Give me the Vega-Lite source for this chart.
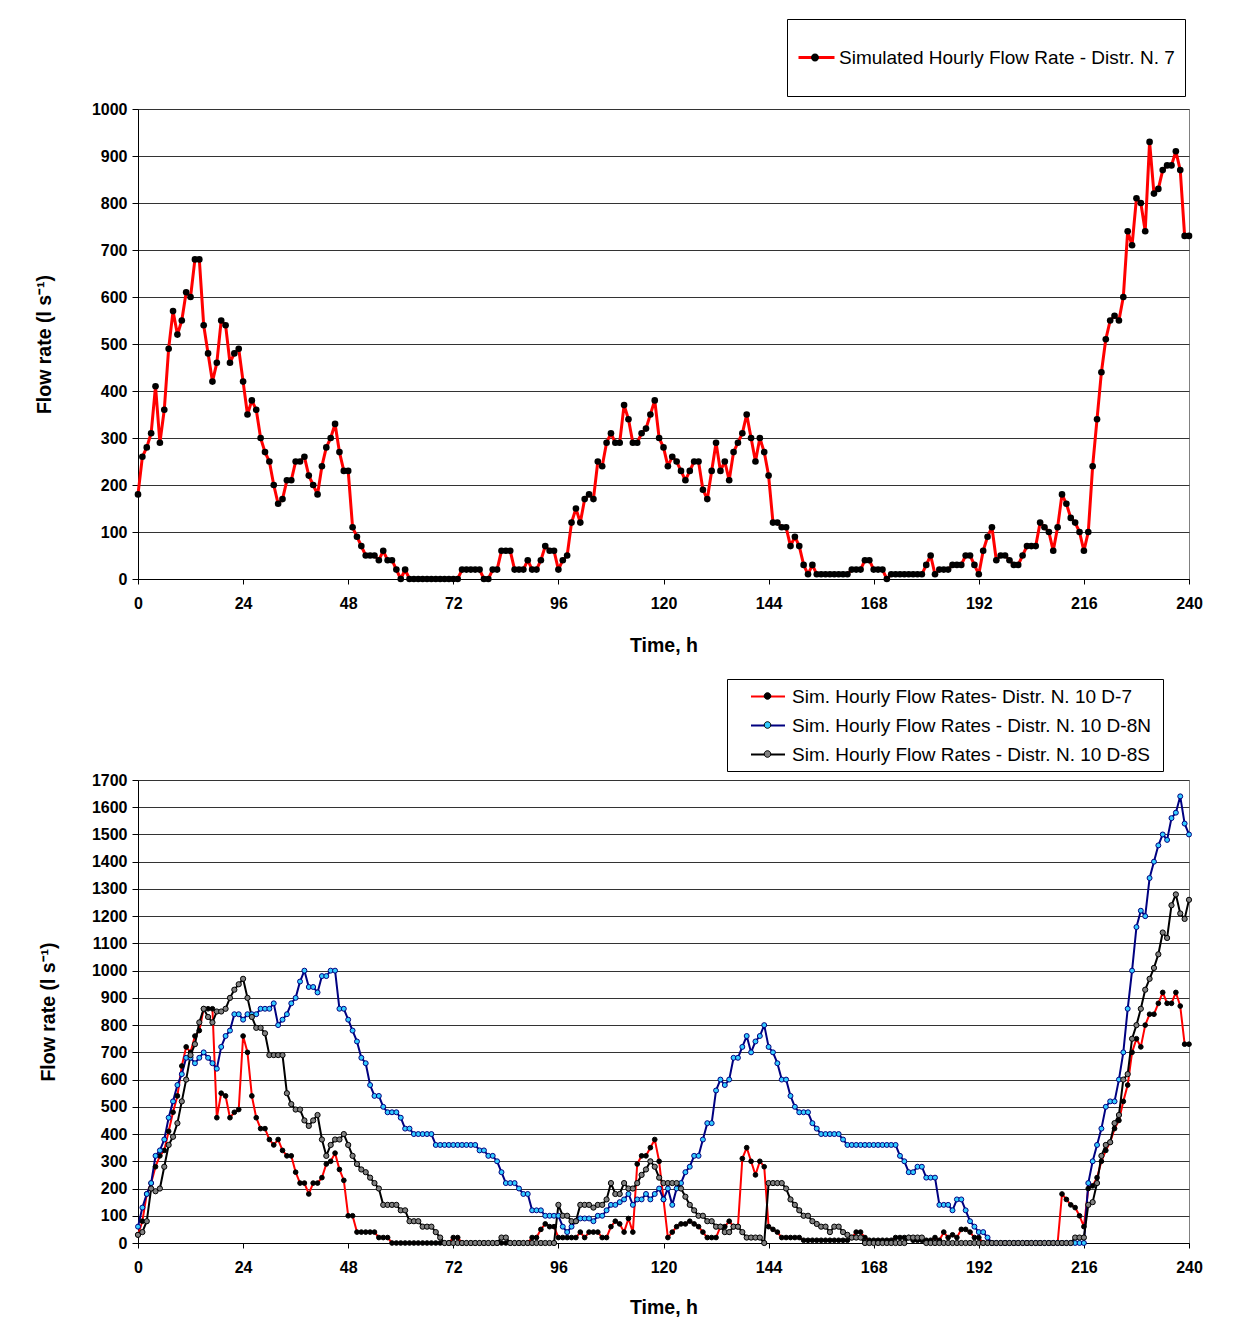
{
"$schema":"https://vega.github.io/schema/vega-lite/v6.json",
"padding":{"left":33,"top":18,"right":4,"bottom":2},
"background":"white",
"spacing":201,
"bounds":"flush",
"resolve":{"scale":{"color":"independent","fill":"independent","size":"independent","stroke":"independent","x":"independent","y":"independent"},"legend":{"color":"independent","fill":"independent"}},
"config":{
 "font":"Liberation Sans",
 "view":{"stroke":"#808080","strokeWidth":1},
 "axis":{"labelFont":"Liberation Sans","labelFontWeight":"bold","labelFontSize":16,"labelColor":"#000","titleFont":"Liberation Sans","titleFontWeight":"bold","titleFontSize":19.5,"titleColor":"#000","domainColor":"#000","domainWidth":1,"tickColor":"#000","gridColor":"#333333","gridWidth":1},
 "legend":{"labelFont":"Liberation Sans","labelFontSize":19,"labelColor":"#000"}
},
"datasets":{
"top":[
{"h":0,"v":180},{"h":1,"v":260},{"h":2,"v":280},{"h":3,"v":310},{"h":4,"v":410},{"h":5,"v":290},{"h":6,"v":360},{"h":7,"v":490},{"h":8,"v":570},{"h":9,"v":520},
{"h":10,"v":550},{"h":11,"v":610},{"h":12,"v":600},{"h":13,"v":680},{"h":14,"v":680},{"h":15,"v":540},{"h":16,"v":480},{"h":17,"v":420},{"h":18,"v":460},{"h":19,"v":550},
{"h":20,"v":540},{"h":21,"v":460},{"h":22,"v":480},{"h":23,"v":490},{"h":24,"v":420},{"h":25,"v":350},{"h":26,"v":380},{"h":27,"v":360},{"h":28,"v":300},{"h":29,"v":270},
{"h":30,"v":250},{"h":31,"v":200},{"h":32,"v":160},{"h":33,"v":170},{"h":34,"v":210},{"h":35,"v":210},{"h":36,"v":250},{"h":37,"v":250},{"h":38,"v":260},{"h":39,"v":220},
{"h":40,"v":200},{"h":41,"v":180},{"h":42,"v":240},{"h":43,"v":280},{"h":44,"v":300},{"h":45,"v":330},{"h":46,"v":270},{"h":47,"v":230},{"h":48,"v":230},{"h":49,"v":110},
{"h":50,"v":90},{"h":51,"v":70},{"h":52,"v":50},{"h":53,"v":50},{"h":54,"v":50},{"h":55,"v":40},{"h":56,"v":60},{"h":57,"v":40},{"h":58,"v":40},{"h":59,"v":20},
{"h":60,"v":0},{"h":61,"v":20},{"h":62,"v":0},{"h":63,"v":0},{"h":64,"v":0},{"h":65,"v":0},{"h":66,"v":0},{"h":67,"v":0},{"h":68,"v":0},{"h":69,"v":0},
{"h":70,"v":0},{"h":71,"v":0},{"h":72,"v":0},{"h":73,"v":0},{"h":74,"v":20},{"h":75,"v":20},{"h":76,"v":20},{"h":77,"v":20},{"h":78,"v":20},{"h":79,"v":0},
{"h":80,"v":0},{"h":81,"v":20},{"h":82,"v":20},{"h":83,"v":60},{"h":84,"v":60},{"h":85,"v":60},{"h":86,"v":20},{"h":87,"v":20},{"h":88,"v":20},{"h":89,"v":40},
{"h":90,"v":20},{"h":91,"v":20},{"h":92,"v":40},{"h":93,"v":70},{"h":94,"v":60},{"h":95,"v":60},{"h":96,"v":20},{"h":97,"v":40},{"h":98,"v":50},{"h":99,"v":120},
{"h":100,"v":150},{"h":101,"v":120},{"h":102,"v":170},{"h":103,"v":180},{"h":104,"v":170},{"h":105,"v":250},{"h":106,"v":240},{"h":107,"v":290},{"h":108,"v":310},{"h":109,"v":290},
{"h":110,"v":290},{"h":111,"v":370},{"h":112,"v":340},{"h":113,"v":290},{"h":114,"v":290},{"h":115,"v":310},{"h":116,"v":320},{"h":117,"v":350},{"h":118,"v":380},{"h":119,"v":300},
{"h":120,"v":280},{"h":121,"v":240},{"h":122,"v":260},{"h":123,"v":250},{"h":124,"v":230},{"h":125,"v":210},{"h":126,"v":230},{"h":127,"v":250},{"h":128,"v":250},{"h":129,"v":190},
{"h":130,"v":170},{"h":131,"v":230},{"h":132,"v":290},{"h":133,"v":230},{"h":134,"v":250},{"h":135,"v":210},{"h":136,"v":270},{"h":137,"v":290},{"h":138,"v":310},{"h":139,"v":350},
{"h":140,"v":300},{"h":141,"v":250},{"h":142,"v":300},{"h":143,"v":270},{"h":144,"v":220},{"h":145,"v":120},{"h":146,"v":120},{"h":147,"v":110},{"h":148,"v":110},{"h":149,"v":70},
{"h":150,"v":90},{"h":151,"v":70},{"h":152,"v":30},{"h":153,"v":10},{"h":154,"v":30},{"h":155,"v":10},{"h":156,"v":10},{"h":157,"v":10},{"h":158,"v":10},{"h":159,"v":10},
{"h":160,"v":10},{"h":161,"v":10},{"h":162,"v":10},{"h":163,"v":20},{"h":164,"v":20},{"h":165,"v":20},{"h":166,"v":40},{"h":167,"v":40},{"h":168,"v":20},{"h":169,"v":20},
{"h":170,"v":20},{"h":171,"v":0},{"h":172,"v":10},{"h":173,"v":10},{"h":174,"v":10},{"h":175,"v":10},{"h":176,"v":10},{"h":177,"v":10},{"h":178,"v":10},{"h":179,"v":10},
{"h":180,"v":30},{"h":181,"v":50},{"h":182,"v":10},{"h":183,"v":20},{"h":184,"v":20},{"h":185,"v":20},{"h":186,"v":30},{"h":187,"v":30},{"h":188,"v":30},{"h":189,"v":50},
{"h":190,"v":50},{"h":191,"v":30},{"h":192,"v":10},{"h":193,"v":60},{"h":194,"v":90},{"h":195,"v":110},{"h":196,"v":40},{"h":197,"v":50},{"h":198,"v":50},{"h":199,"v":40},
{"h":200,"v":30},{"h":201,"v":30},{"h":202,"v":50},{"h":203,"v":70},{"h":204,"v":70},{"h":205,"v":70},{"h":206,"v":120},{"h":207,"v":110},{"h":208,"v":100},{"h":209,"v":60},
{"h":210,"v":110},{"h":211,"v":180},{"h":212,"v":160},{"h":213,"v":130},{"h":214,"v":120},{"h":215,"v":100},{"h":216,"v":60},{"h":217,"v":100},{"h":218,"v":240},{"h":219,"v":340},
{"h":220,"v":440},{"h":221,"v":510},{"h":222,"v":550},{"h":223,"v":560},{"h":224,"v":550},{"h":225,"v":600},{"h":226,"v":740},{"h":227,"v":710},{"h":228,"v":810},{"h":229,"v":800},
{"h":230,"v":740},{"h":231,"v":930},{"h":232,"v":820},{"h":233,"v":830},{"h":234,"v":870},{"h":235,"v":880},{"h":236,"v":880},{"h":237,"v":910},{"h":238,"v":870},{"h":239,"v":730},
{"h":240,"v":730}
],
"bot":[
{"s":"D-7","h":0,"v":30},{"s":"D-7","h":1,"v":80},{"s":"D-7","h":2,"v":180},{"s":"D-7","h":3,"v":220},{"s":"D-7","h":4,"v":280},{"s":"D-7","h":5,"v":320},{"s":"D-7","h":6,"v":340},{"s":"D-7","h":7,"v":410},{"s":"D-7","h":8,"v":480},{"s":"D-7","h":9,"v":540},
{"s":"D-7","h":10,"v":650},{"s":"D-7","h":11,"v":720},{"s":"D-7","h":12,"v":700},{"s":"D-7","h":13,"v":760},{"s":"D-7","h":14,"v":780},{"s":"D-7","h":15,"v":860},{"s":"D-7","h":16,"v":860},{"s":"D-7","h":17,"v":860},{"s":"D-7","h":18,"v":460},{"s":"D-7","h":19,"v":550},
{"s":"D-7","h":20,"v":540},{"s":"D-7","h":21,"v":460},{"s":"D-7","h":22,"v":480},{"s":"D-7","h":23,"v":490},{"s":"D-7","h":24,"v":760},{"s":"D-7","h":25,"v":700},{"s":"D-7","h":26,"v":540},{"s":"D-7","h":27,"v":460},{"s":"D-7","h":28,"v":420},{"s":"D-7","h":29,"v":420},
{"s":"D-7","h":30,"v":380},{"s":"D-7","h":31,"v":360},{"s":"D-7","h":32,"v":380},{"s":"D-7","h":33,"v":340},{"s":"D-7","h":34,"v":320},{"s":"D-7","h":35,"v":320},{"s":"D-7","h":36,"v":260},{"s":"D-7","h":37,"v":220},{"s":"D-7","h":38,"v":220},{"s":"D-7","h":39,"v":180},
{"s":"D-7","h":40,"v":220},{"s":"D-7","h":41,"v":220},{"s":"D-7","h":42,"v":240},{"s":"D-7","h":43,"v":290},{"s":"D-7","h":44,"v":300},{"s":"D-7","h":45,"v":330},{"s":"D-7","h":46,"v":270},{"s":"D-7","h":47,"v":230},{"s":"D-7","h":48,"v":100},{"s":"D-7","h":49,"v":100},
{"s":"D-7","h":50,"v":40},{"s":"D-7","h":51,"v":40},{"s":"D-7","h":52,"v":40},{"s":"D-7","h":53,"v":40},{"s":"D-7","h":54,"v":40},{"s":"D-7","h":55,"v":20},{"s":"D-7","h":56,"v":20},{"s":"D-7","h":57,"v":20},{"s":"D-7","h":58,"v":0},{"s":"D-7","h":59,"v":0},
{"s":"D-7","h":60,"v":0},{"s":"D-7","h":61,"v":0},{"s":"D-7","h":62,"v":0},{"s":"D-7","h":63,"v":0},{"s":"D-7","h":64,"v":0},{"s":"D-7","h":65,"v":0},{"s":"D-7","h":66,"v":0},{"s":"D-7","h":67,"v":0},{"s":"D-7","h":68,"v":0},{"s":"D-7","h":69,"v":0},
{"s":"D-7","h":70,"v":0},{"s":"D-7","h":71,"v":0},{"s":"D-7","h":72,"v":20},{"s":"D-7","h":73,"v":20},{"s":"D-7","h":74,"v":0},{"s":"D-7","h":75,"v":0},{"s":"D-7","h":76,"v":0},{"s":"D-7","h":77,"v":0},{"s":"D-7","h":78,"v":0},{"s":"D-7","h":79,"v":0},
{"s":"D-7","h":80,"v":0},{"s":"D-7","h":81,"v":0},{"s":"D-7","h":82,"v":0},{"s":"D-7","h":83,"v":0},{"s":"D-7","h":84,"v":0},{"s":"D-7","h":85,"v":0},{"s":"D-7","h":86,"v":0},{"s":"D-7","h":87,"v":0},{"s":"D-7","h":88,"v":0},{"s":"D-7","h":89,"v":0},
{"s":"D-7","h":90,"v":20},{"s":"D-7","h":91,"v":20},{"s":"D-7","h":92,"v":50},{"s":"D-7","h":93,"v":70},{"s":"D-7","h":94,"v":60},{"s":"D-7","h":95,"v":60},{"s":"D-7","h":96,"v":20},{"s":"D-7","h":97,"v":20},{"s":"D-7","h":98,"v":20},{"s":"D-7","h":99,"v":20},
{"s":"D-7","h":100,"v":20},{"s":"D-7","h":101,"v":40},{"s":"D-7","h":102,"v":20},{"s":"D-7","h":103,"v":40},{"s":"D-7","h":104,"v":40},{"s":"D-7","h":105,"v":40},{"s":"D-7","h":106,"v":20},{"s":"D-7","h":107,"v":20},{"s":"D-7","h":108,"v":60},{"s":"D-7","h":109,"v":80},
{"s":"D-7","h":110,"v":70},{"s":"D-7","h":111,"v":40},{"s":"D-7","h":112,"v":90},{"s":"D-7","h":113,"v":40},{"s":"D-7","h":114,"v":290},{"s":"D-7","h":115,"v":320},{"s":"D-7","h":116,"v":320},{"s":"D-7","h":117,"v":350},{"s":"D-7","h":118,"v":380},{"s":"D-7","h":119,"v":300},
{"s":"D-7","h":120,"v":160},{"s":"D-7","h":121,"v":20},{"s":"D-7","h":122,"v":40},{"s":"D-7","h":123,"v":60},{"s":"D-7","h":124,"v":70},{"s":"D-7","h":125,"v":70},{"s":"D-7","h":126,"v":80},{"s":"D-7","h":127,"v":70},{"s":"D-7","h":128,"v":60},{"s":"D-7","h":129,"v":40},
{"s":"D-7","h":130,"v":20},{"s":"D-7","h":131,"v":20},{"s":"D-7","h":132,"v":20},{"s":"D-7","h":133,"v":60},{"s":"D-7","h":134,"v":60},{"s":"D-7","h":135,"v":80},{"s":"D-7","h":136,"v":60},{"s":"D-7","h":137,"v":60},{"s":"D-7","h":138,"v":310},{"s":"D-7","h":139,"v":350},
{"s":"D-7","h":140,"v":300},{"s":"D-7","h":141,"v":250},{"s":"D-7","h":142,"v":300},{"s":"D-7","h":143,"v":280},{"s":"D-7","h":144,"v":60},{"s":"D-7","h":145,"v":50},{"s":"D-7","h":146,"v":40},{"s":"D-7","h":147,"v":20},{"s":"D-7","h":148,"v":20},{"s":"D-7","h":149,"v":20},
{"s":"D-7","h":150,"v":20},{"s":"D-7","h":151,"v":20},{"s":"D-7","h":152,"v":10},{"s":"D-7","h":153,"v":10},{"s":"D-7","h":154,"v":10},{"s":"D-7","h":155,"v":10},{"s":"D-7","h":156,"v":10},{"s":"D-7","h":157,"v":10},{"s":"D-7","h":158,"v":10},{"s":"D-7","h":159,"v":10},
{"s":"D-7","h":160,"v":10},{"s":"D-7","h":161,"v":10},{"s":"D-7","h":162,"v":10},{"s":"D-7","h":163,"v":20},{"s":"D-7","h":164,"v":40},{"s":"D-7","h":165,"v":40},{"s":"D-7","h":166,"v":20},{"s":"D-7","h":167,"v":10},{"s":"D-7","h":168,"v":10},{"s":"D-7","h":169,"v":10},
{"s":"D-7","h":170,"v":10},{"s":"D-7","h":171,"v":10},{"s":"D-7","h":172,"v":10},{"s":"D-7","h":173,"v":20},{"s":"D-7","h":174,"v":20},{"s":"D-7","h":175,"v":20},{"s":"D-7","h":176,"v":20},{"s":"D-7","h":177,"v":10},{"s":"D-7","h":178,"v":10},{"s":"D-7","h":179,"v":10},
{"s":"D-7","h":180,"v":10},{"s":"D-7","h":181,"v":10},{"s":"D-7","h":182,"v":20},{"s":"D-7","h":183,"v":10},{"s":"D-7","h":184,"v":40},{"s":"D-7","h":185,"v":20},{"s":"D-7","h":186,"v":30},{"s":"D-7","h":187,"v":20},{"s":"D-7","h":188,"v":50},{"s":"D-7","h":189,"v":50},
{"s":"D-7","h":190,"v":40},{"s":"D-7","h":191,"v":20},{"s":"D-7","h":192,"v":20},{"s":"D-7","h":193,"v":0},{"s":"D-7","h":194,"v":0},{"s":"D-7","h":195,"v":0},{"s":"D-7","h":196,"v":0},{"s":"D-7","h":197,"v":0},{"s":"D-7","h":198,"v":0},{"s":"D-7","h":199,"v":0},
{"s":"D-7","h":200,"v":0},{"s":"D-7","h":201,"v":0},{"s":"D-7","h":202,"v":0},{"s":"D-7","h":203,"v":0},{"s":"D-7","h":204,"v":0},{"s":"D-7","h":205,"v":0},{"s":"D-7","h":206,"v":0},{"s":"D-7","h":207,"v":0},{"s":"D-7","h":208,"v":0},{"s":"D-7","h":209,"v":0},
{"s":"D-7","h":210,"v":0},{"s":"D-7","h":211,"v":180},{"s":"D-7","h":212,"v":160},{"s":"D-7","h":213,"v":140},{"s":"D-7","h":214,"v":130},{"s":"D-7","h":215,"v":100},{"s":"D-7","h":216,"v":60},{"s":"D-7","h":217,"v":200},{"s":"D-7","h":218,"v":210},{"s":"D-7","h":219,"v":240},
{"s":"D-7","h":220,"v":300},{"s":"D-7","h":221,"v":340},{"s":"D-7","h":222,"v":370},{"s":"D-7","h":223,"v":420},{"s":"D-7","h":224,"v":450},{"s":"D-7","h":225,"v":520},{"s":"D-7","h":226,"v":580},{"s":"D-7","h":227,"v":700},{"s":"D-7","h":228,"v":750},{"s":"D-7","h":229,"v":720},
{"s":"D-7","h":230,"v":800},{"s":"D-7","h":231,"v":840},{"s":"D-7","h":232,"v":840},{"s":"D-7","h":233,"v":880},{"s":"D-7","h":234,"v":920},{"s":"D-7","h":235,"v":880},{"s":"D-7","h":236,"v":880},{"s":"D-7","h":237,"v":920},{"s":"D-7","h":238,"v":870},{"s":"D-7","h":239,"v":730},
{"s":"D-7","h":240,"v":730},
{"s":"D-8N","h":0,"v":60},{"s":"D-8N","h":1,"v":130},{"s":"D-8N","h":2,"v":180},{"s":"D-8N","h":3,"v":220},{"s":"D-8N","h":4,"v":320},{"s":"D-8N","h":5,"v":340},{"s":"D-8N","h":6,"v":380},{"s":"D-8N","h":7,"v":460},{"s":"D-8N","h":8,"v":520},{"s":"D-8N","h":9,"v":580},
{"s":"D-8N","h":10,"v":620},{"s":"D-8N","h":11,"v":680},{"s":"D-8N","h":12,"v":680},{"s":"D-8N","h":13,"v":660},{"s":"D-8N","h":14,"v":680},{"s":"D-8N","h":15,"v":700},{"s":"D-8N","h":16,"v":680},{"s":"D-8N","h":17,"v":660},{"s":"D-8N","h":18,"v":640},{"s":"D-8N","h":19,"v":720},
{"s":"D-8N","h":20,"v":760},{"s":"D-8N","h":21,"v":780},{"s":"D-8N","h":22,"v":840},{"s":"D-8N","h":23,"v":840},{"s":"D-8N","h":24,"v":820},{"s":"D-8N","h":25,"v":840},{"s":"D-8N","h":26,"v":840},{"s":"D-8N","h":27,"v":840},{"s":"D-8N","h":28,"v":860},{"s":"D-8N","h":29,"v":860},
{"s":"D-8N","h":30,"v":860},{"s":"D-8N","h":31,"v":880},{"s":"D-8N","h":32,"v":800},{"s":"D-8N","h":33,"v":820},{"s":"D-8N","h":34,"v":840},{"s":"D-8N","h":35,"v":880},{"s":"D-8N","h":36,"v":900},{"s":"D-8N","h":37,"v":960},{"s":"D-8N","h":38,"v":1000},{"s":"D-8N","h":39,"v":940},
{"s":"D-8N","h":40,"v":940},{"s":"D-8N","h":41,"v":920},{"s":"D-8N","h":42,"v":980},{"s":"D-8N","h":43,"v":980},{"s":"D-8N","h":44,"v":1000},{"s":"D-8N","h":45,"v":1000},{"s":"D-8N","h":46,"v":860},{"s":"D-8N","h":47,"v":860},{"s":"D-8N","h":48,"v":820},{"s":"D-8N","h":49,"v":780},
{"s":"D-8N","h":50,"v":740},{"s":"D-8N","h":51,"v":680},{"s":"D-8N","h":52,"v":660},{"s":"D-8N","h":53,"v":580},{"s":"D-8N","h":54,"v":540},{"s":"D-8N","h":55,"v":540},{"s":"D-8N","h":56,"v":500},{"s":"D-8N","h":57,"v":480},{"s":"D-8N","h":58,"v":480},{"s":"D-8N","h":59,"v":480},
{"s":"D-8N","h":60,"v":460},{"s":"D-8N","h":61,"v":420},{"s":"D-8N","h":62,"v":420},{"s":"D-8N","h":63,"v":400},{"s":"D-8N","h":64,"v":400},{"s":"D-8N","h":65,"v":400},{"s":"D-8N","h":66,"v":400},{"s":"D-8N","h":67,"v":400},{"s":"D-8N","h":68,"v":360},{"s":"D-8N","h":69,"v":360},
{"s":"D-8N","h":70,"v":360},{"s":"D-8N","h":71,"v":360},{"s":"D-8N","h":72,"v":360},{"s":"D-8N","h":73,"v":360},{"s":"D-8N","h":74,"v":360},{"s":"D-8N","h":75,"v":360},{"s":"D-8N","h":76,"v":360},{"s":"D-8N","h":77,"v":360},{"s":"D-8N","h":78,"v":340},{"s":"D-8N","h":79,"v":340},
{"s":"D-8N","h":80,"v":320},{"s":"D-8N","h":81,"v":320},{"s":"D-8N","h":82,"v":300},{"s":"D-8N","h":83,"v":260},{"s":"D-8N","h":84,"v":220},{"s":"D-8N","h":85,"v":220},{"s":"D-8N","h":86,"v":220},{"s":"D-8N","h":87,"v":200},{"s":"D-8N","h":88,"v":180},{"s":"D-8N","h":89,"v":180},
{"s":"D-8N","h":90,"v":120},{"s":"D-8N","h":91,"v":120},{"s":"D-8N","h":92,"v":120},{"s":"D-8N","h":93,"v":100},{"s":"D-8N","h":94,"v":100},{"s":"D-8N","h":95,"v":100},{"s":"D-8N","h":96,"v":100},{"s":"D-8N","h":97,"v":60},{"s":"D-8N","h":98,"v":40},{"s":"D-8N","h":99,"v":60},
{"s":"D-8N","h":100,"v":80},{"s":"D-8N","h":101,"v":90},{"s":"D-8N","h":102,"v":90},{"s":"D-8N","h":103,"v":90},{"s":"D-8N","h":104,"v":80},{"s":"D-8N","h":105,"v":100},{"s":"D-8N","h":106,"v":100},{"s":"D-8N","h":107,"v":120},{"s":"D-8N","h":108,"v":140},{"s":"D-8N","h":109,"v":140},
{"s":"D-8N","h":110,"v":150},{"s":"D-8N","h":111,"v":160},{"s":"D-8N","h":112,"v":180},{"s":"D-8N","h":113,"v":140},{"s":"D-8N","h":114,"v":160},{"s":"D-8N","h":115,"v":160},{"s":"D-8N","h":116,"v":180},{"s":"D-8N","h":117,"v":160},{"s":"D-8N","h":118,"v":180},{"s":"D-8N","h":119,"v":200},
{"s":"D-8N","h":120,"v":160},{"s":"D-8N","h":121,"v":200},{"s":"D-8N","h":122,"v":140},{"s":"D-8N","h":123,"v":200},{"s":"D-8N","h":124,"v":220},{"s":"D-8N","h":125,"v":260},{"s":"D-8N","h":126,"v":280},{"s":"D-8N","h":127,"v":320},{"s":"D-8N","h":128,"v":320},{"s":"D-8N","h":129,"v":380},
{"s":"D-8N","h":130,"v":440},{"s":"D-8N","h":131,"v":440},{"s":"D-8N","h":132,"v":560},{"s":"D-8N","h":133,"v":600},{"s":"D-8N","h":134,"v":580},{"s":"D-8N","h":135,"v":600},{"s":"D-8N","h":136,"v":680},{"s":"D-8N","h":137,"v":680},{"s":"D-8N","h":138,"v":720},{"s":"D-8N","h":139,"v":760},
{"s":"D-8N","h":140,"v":700},{"s":"D-8N","h":141,"v":740},{"s":"D-8N","h":142,"v":760},{"s":"D-8N","h":143,"v":800},{"s":"D-8N","h":144,"v":720},{"s":"D-8N","h":145,"v":700},{"s":"D-8N","h":146,"v":660},{"s":"D-8N","h":147,"v":600},{"s":"D-8N","h":148,"v":600},{"s":"D-8N","h":149,"v":540},
{"s":"D-8N","h":150,"v":500},{"s":"D-8N","h":151,"v":480},{"s":"D-8N","h":152,"v":480},{"s":"D-8N","h":153,"v":480},{"s":"D-8N","h":154,"v":440},{"s":"D-8N","h":155,"v":420},{"s":"D-8N","h":156,"v":400},{"s":"D-8N","h":157,"v":400},{"s":"D-8N","h":158,"v":400},{"s":"D-8N","h":159,"v":400},
{"s":"D-8N","h":160,"v":400},{"s":"D-8N","h":161,"v":380},{"s":"D-8N","h":162,"v":360},{"s":"D-8N","h":163,"v":360},{"s":"D-8N","h":164,"v":360},{"s":"D-8N","h":165,"v":360},{"s":"D-8N","h":166,"v":360},{"s":"D-8N","h":167,"v":360},{"s":"D-8N","h":168,"v":360},{"s":"D-8N","h":169,"v":360},
{"s":"D-8N","h":170,"v":360},{"s":"D-8N","h":171,"v":360},{"s":"D-8N","h":172,"v":360},{"s":"D-8N","h":173,"v":360},{"s":"D-8N","h":174,"v":320},{"s":"D-8N","h":175,"v":300},{"s":"D-8N","h":176,"v":260},{"s":"D-8N","h":177,"v":260},{"s":"D-8N","h":178,"v":280},{"s":"D-8N","h":179,"v":280},
{"s":"D-8N","h":180,"v":240},{"s":"D-8N","h":181,"v":240},{"s":"D-8N","h":182,"v":240},{"s":"D-8N","h":183,"v":140},{"s":"D-8N","h":184,"v":140},{"s":"D-8N","h":185,"v":140},{"s":"D-8N","h":186,"v":120},{"s":"D-8N","h":187,"v":160},{"s":"D-8N","h":188,"v":160},{"s":"D-8N","h":189,"v":120},
{"s":"D-8N","h":190,"v":80},{"s":"D-8N","h":191,"v":60},{"s":"D-8N","h":192,"v":40},{"s":"D-8N","h":193,"v":40},{"s":"D-8N","h":194,"v":20},{"s":"D-8N","h":195,"v":0},{"s":"D-8N","h":196,"v":0},{"s":"D-8N","h":197,"v":0},{"s":"D-8N","h":198,"v":0},{"s":"D-8N","h":199,"v":0},
{"s":"D-8N","h":200,"v":0},{"s":"D-8N","h":201,"v":0},{"s":"D-8N","h":202,"v":0},{"s":"D-8N","h":203,"v":0},{"s":"D-8N","h":204,"v":0},{"s":"D-8N","h":205,"v":0},{"s":"D-8N","h":206,"v":0},{"s":"D-8N","h":207,"v":0},{"s":"D-8N","h":208,"v":0},{"s":"D-8N","h":209,"v":0},
{"s":"D-8N","h":210,"v":0},{"s":"D-8N","h":211,"v":0},{"s":"D-8N","h":212,"v":0},{"s":"D-8N","h":213,"v":0},{"s":"D-8N","h":214,"v":0},{"s":"D-8N","h":215,"v":0},{"s":"D-8N","h":216,"v":0},{"s":"D-8N","h":217,"v":220},{"s":"D-8N","h":218,"v":300},{"s":"D-8N","h":219,"v":360},
{"s":"D-8N","h":220,"v":420},{"s":"D-8N","h":221,"v":500},{"s":"D-8N","h":222,"v":520},{"s":"D-8N","h":223,"v":520},{"s":"D-8N","h":224,"v":600},{"s":"D-8N","h":225,"v":700},{"s":"D-8N","h":226,"v":860},{"s":"D-8N","h":227,"v":1000},{"s":"D-8N","h":228,"v":1160},{"s":"D-8N","h":229,"v":1220},
{"s":"D-8N","h":230,"v":1200},{"s":"D-8N","h":231,"v":1340},{"s":"D-8N","h":232,"v":1400},{"s":"D-8N","h":233,"v":1460},{"s":"D-8N","h":234,"v":1500},{"s":"D-8N","h":235,"v":1480},{"s":"D-8N","h":236,"v":1560},{"s":"D-8N","h":237,"v":1580},{"s":"D-8N","h":238,"v":1640},{"s":"D-8N","h":239,"v":1540},
{"s":"D-8N","h":240,"v":1500},
{"s":"D-8S","h":0,"v":30},{"s":"D-8S","h":1,"v":40},{"s":"D-8S","h":2,"v":80},{"s":"D-8S","h":3,"v":200},{"s":"D-8S","h":4,"v":190},{"s":"D-8S","h":5,"v":200},{"s":"D-8S","h":6,"v":280},{"s":"D-8S","h":7,"v":360},{"s":"D-8S","h":8,"v":390},{"s":"D-8S","h":9,"v":440},
{"s":"D-8S","h":10,"v":520},{"s":"D-8S","h":11,"v":600},{"s":"D-8S","h":12,"v":690},{"s":"D-8S","h":13,"v":730},{"s":"D-8S","h":14,"v":810},{"s":"D-8S","h":15,"v":860},{"s":"D-8S","h":16,"v":830},{"s":"D-8S","h":17,"v":810},{"s":"D-8S","h":18,"v":850},{"s":"D-8S","h":19,"v":850},
{"s":"D-8S","h":20,"v":860},{"s":"D-8S","h":21,"v":900},{"s":"D-8S","h":22,"v":930},{"s":"D-8S","h":23,"v":950},{"s":"D-8S","h":24,"v":970},{"s":"D-8S","h":25,"v":900},{"s":"D-8S","h":26,"v":830},{"s":"D-8S","h":27,"v":790},{"s":"D-8S","h":28,"v":790},{"s":"D-8S","h":29,"v":770},
{"s":"D-8S","h":30,"v":690},{"s":"D-8S","h":31,"v":690},{"s":"D-8S","h":32,"v":690},{"s":"D-8S","h":33,"v":690},{"s":"D-8S","h":34,"v":550},{"s":"D-8S","h":35,"v":510},{"s":"D-8S","h":36,"v":490},{"s":"D-8S","h":37,"v":490},{"s":"D-8S","h":38,"v":450},{"s":"D-8S","h":39,"v":430},
{"s":"D-8S","h":40,"v":450},{"s":"D-8S","h":41,"v":470},{"s":"D-8S","h":42,"v":380},{"s":"D-8S","h":43,"v":320},{"s":"D-8S","h":44,"v":360},{"s":"D-8S","h":45,"v":380},{"s":"D-8S","h":46,"v":380},{"s":"D-8S","h":47,"v":400},{"s":"D-8S","h":48,"v":360},{"s":"D-8S","h":49,"v":320},
{"s":"D-8S","h":50,"v":290},{"s":"D-8S","h":51,"v":270},{"s":"D-8S","h":52,"v":260},{"s":"D-8S","h":53,"v":240},{"s":"D-8S","h":54,"v":220},{"s":"D-8S","h":55,"v":200},{"s":"D-8S","h":56,"v":140},{"s":"D-8S","h":57,"v":140},{"s":"D-8S","h":58,"v":140},{"s":"D-8S","h":59,"v":140},
{"s":"D-8S","h":60,"v":120},{"s":"D-8S","h":61,"v":120},{"s":"D-8S","h":62,"v":80},{"s":"D-8S","h":63,"v":80},{"s":"D-8S","h":64,"v":80},{"s":"D-8S","h":65,"v":60},{"s":"D-8S","h":66,"v":60},{"s":"D-8S","h":67,"v":60},{"s":"D-8S","h":68,"v":40},{"s":"D-8S","h":69,"v":20},
{"s":"D-8S","h":70,"v":0},{"s":"D-8S","h":71,"v":0},{"s":"D-8S","h":72,"v":0},{"s":"D-8S","h":73,"v":0},{"s":"D-8S","h":74,"v":0},{"s":"D-8S","h":75,"v":0},{"s":"D-8S","h":76,"v":0},{"s":"D-8S","h":77,"v":0},{"s":"D-8S","h":78,"v":0},{"s":"D-8S","h":79,"v":0},
{"s":"D-8S","h":80,"v":0},{"s":"D-8S","h":81,"v":0},{"s":"D-8S","h":82,"v":0},{"s":"D-8S","h":83,"v":20},{"s":"D-8S","h":84,"v":20},{"s":"D-8S","h":85,"v":0},{"s":"D-8S","h":86,"v":0},{"s":"D-8S","h":87,"v":0},{"s":"D-8S","h":88,"v":0},{"s":"D-8S","h":89,"v":0},
{"s":"D-8S","h":90,"v":0},{"s":"D-8S","h":91,"v":0},{"s":"D-8S","h":92,"v":0},{"s":"D-8S","h":93,"v":0},{"s":"D-8S","h":94,"v":0},{"s":"D-8S","h":95,"v":0},{"s":"D-8S","h":96,"v":140},{"s":"D-8S","h":97,"v":100},{"s":"D-8S","h":98,"v":100},{"s":"D-8S","h":99,"v":80},
{"s":"D-8S","h":100,"v":80},{"s":"D-8S","h":101,"v":140},{"s":"D-8S","h":102,"v":140},{"s":"D-8S","h":103,"v":140},{"s":"D-8S","h":104,"v":130},{"s":"D-8S","h":105,"v":140},{"s":"D-8S","h":106,"v":140},{"s":"D-8S","h":107,"v":160},{"s":"D-8S","h":108,"v":220},{"s":"D-8S","h":109,"v":180},
{"s":"D-8S","h":110,"v":180},{"s":"D-8S","h":111,"v":220},{"s":"D-8S","h":112,"v":200},{"s":"D-8S","h":113,"v":200},{"s":"D-8S","h":114,"v":220},{"s":"D-8S","h":115,"v":250},{"s":"D-8S","h":116,"v":270},{"s":"D-8S","h":117,"v":300},{"s":"D-8S","h":118,"v":280},{"s":"D-8S","h":119,"v":240},
{"s":"D-8S","h":120,"v":220},{"s":"D-8S","h":121,"v":220},{"s":"D-8S","h":122,"v":220},{"s":"D-8S","h":123,"v":220},{"s":"D-8S","h":124,"v":200},{"s":"D-8S","h":125,"v":170},{"s":"D-8S","h":126,"v":140},{"s":"D-8S","h":127,"v":120},{"s":"D-8S","h":128,"v":100},{"s":"D-8S","h":129,"v":100},
{"s":"D-8S","h":130,"v":80},{"s":"D-8S","h":131,"v":80},{"s":"D-8S","h":132,"v":60},{"s":"D-8S","h":133,"v":60},{"s":"D-8S","h":134,"v":40},{"s":"D-8S","h":135,"v":40},{"s":"D-8S","h":136,"v":60},{"s":"D-8S","h":137,"v":60},{"s":"D-8S","h":138,"v":40},{"s":"D-8S","h":139,"v":20},
{"s":"D-8S","h":140,"v":20},{"s":"D-8S","h":141,"v":20},{"s":"D-8S","h":142,"v":20},{"s":"D-8S","h":143,"v":0},{"s":"D-8S","h":144,"v":220},{"s":"D-8S","h":145,"v":220},{"s":"D-8S","h":146,"v":220},{"s":"D-8S","h":147,"v":220},{"s":"D-8S","h":148,"v":200},{"s":"D-8S","h":149,"v":160},
{"s":"D-8S","h":150,"v":140},{"s":"D-8S","h":151,"v":120},{"s":"D-8S","h":152,"v":100},{"s":"D-8S","h":153,"v":100},{"s":"D-8S","h":154,"v":80},{"s":"D-8S","h":155,"v":70},{"s":"D-8S","h":156,"v":60},{"s":"D-8S","h":157,"v":60},{"s":"D-8S","h":158,"v":40},{"s":"D-8S","h":159,"v":60},
{"s":"D-8S","h":160,"v":60},{"s":"D-8S","h":161,"v":40},{"s":"D-8S","h":162,"v":30},{"s":"D-8S","h":163,"v":20},{"s":"D-8S","h":164,"v":20},{"s":"D-8S","h":165,"v":20},{"s":"D-8S","h":166,"v":0},{"s":"D-8S","h":167,"v":0},{"s":"D-8S","h":168,"v":0},{"s":"D-8S","h":169,"v":0},
{"s":"D-8S","h":170,"v":0},{"s":"D-8S","h":171,"v":0},{"s":"D-8S","h":172,"v":0},{"s":"D-8S","h":173,"v":0},{"s":"D-8S","h":174,"v":0},{"s":"D-8S","h":175,"v":0},{"s":"D-8S","h":176,"v":20},{"s":"D-8S","h":177,"v":20},{"s":"D-8S","h":178,"v":20},{"s":"D-8S","h":179,"v":20},
{"s":"D-8S","h":180,"v":0},{"s":"D-8S","h":181,"v":0},{"s":"D-8S","h":182,"v":0},{"s":"D-8S","h":183,"v":0},{"s":"D-8S","h":184,"v":0},{"s":"D-8S","h":185,"v":0},{"s":"D-8S","h":186,"v":0},{"s":"D-8S","h":187,"v":0},{"s":"D-8S","h":188,"v":0},{"s":"D-8S","h":189,"v":0},
{"s":"D-8S","h":190,"v":0},{"s":"D-8S","h":191,"v":0},{"s":"D-8S","h":192,"v":0},{"s":"D-8S","h":193,"v":0},{"s":"D-8S","h":194,"v":0},{"s":"D-8S","h":195,"v":0},{"s":"D-8S","h":196,"v":0},{"s":"D-8S","h":197,"v":0},{"s":"D-8S","h":198,"v":0},{"s":"D-8S","h":199,"v":0},
{"s":"D-8S","h":200,"v":0},{"s":"D-8S","h":201,"v":0},{"s":"D-8S","h":202,"v":0},{"s":"D-8S","h":203,"v":0},{"s":"D-8S","h":204,"v":0},{"s":"D-8S","h":205,"v":0},{"s":"D-8S","h":206,"v":0},{"s":"D-8S","h":207,"v":0},{"s":"D-8S","h":208,"v":0},{"s":"D-8S","h":209,"v":0},
{"s":"D-8S","h":210,"v":0},{"s":"D-8S","h":211,"v":0},{"s":"D-8S","h":212,"v":0},{"s":"D-8S","h":213,"v":0},{"s":"D-8S","h":214,"v":20},{"s":"D-8S","h":215,"v":20},{"s":"D-8S","h":216,"v":20},{"s":"D-8S","h":217,"v":140},{"s":"D-8S","h":218,"v":150},{"s":"D-8S","h":219,"v":220},
{"s":"D-8S","h":220,"v":320},{"s":"D-8S","h":221,"v":360},{"s":"D-8S","h":222,"v":370},{"s":"D-8S","h":223,"v":440},{"s":"D-8S","h":224,"v":470},{"s":"D-8S","h":225,"v":600},{"s":"D-8S","h":226,"v":620},{"s":"D-8S","h":227,"v":750},{"s":"D-8S","h":228,"v":800},{"s":"D-8S","h":229,"v":860},
{"s":"D-8S","h":230,"v":930},{"s":"D-8S","h":231,"v":970},{"s":"D-8S","h":232,"v":1010},{"s":"D-8S","h":233,"v":1060},{"s":"D-8S","h":234,"v":1140},{"s":"D-8S","h":235,"v":1120},{"s":"D-8S","h":236,"v":1240},{"s":"D-8S","h":237,"v":1280},{"s":"D-8S","h":238,"v":1210},{"s":"D-8S","h":239,"v":1190},
{"s":"D-8S","h":240,"v":1260}
]
},
"vconcat":[
{
 "width":1051,"height":470,
 "data":{"name":"top"},
 "encoding":{
  "x":{"field":"h","type":"quantitative","scale":{"domain":[0,240],"nice":false,"zero":false},
   "axis":{"values":[0,24,48,72,96,120,144,168,192,216,240],"grid":false,"tickSize":5,"labelPadding":11,"title":"Time, h","titlePadding":25,"labelFlush":false}},
  "y":{"field":"v","type":"quantitative","scale":{"domain":[0,1000],"nice":false},
   "axis":{"values":[0,100,200,300,400,500,600,700,800,900,1000],"format":"d","grid":true,"tickSize":6,"labelPadding":5,"title":"Flow rate (l s⁻¹)","titlePadding":37}}
 },
 "layer":[
  {"mark":{"type":"line","strokeWidth":3,"strokeJoin":"round"},
   "encoding":{"color":{"datum":"Simulated Hourly Flow Rate - Distr. N. 7","type":"nominal",
     "scale":{"domain":["Simulated Hourly Flow Rate - Distr. N. 7"],"range":["#FF0000"]},
     "legend":{"title":null,"orient":"none","legendX":649,"legendY":-90,"symbolType":"stroke","symbolSize":1296,"symbolStrokeWidth":3,"padding":10,"clipHeight":57,"labelOffset":3,"labelFontSize":19,"strokeColor":"#000","fillColor":"#fff","labelLimit":500}}}},
  {"mark":{"type":"circle","size":44,"opacity":1},
   "encoding":{"fill":{"datum":"Simulated Hourly Flow Rate - Distr. N. 7","type":"nominal",
     "scale":{"domain":["Simulated Hourly Flow Rate - Distr. N. 7","_"],"range":["#000000","#000000"]},
     "legend":{"title":null,"values":["Simulated Hourly Flow Rate - Distr. N. 7"],"orient":"none","legendX":649,"legendY":-90,"symbolType":"M-0.22,0A0.22,0.22,0,1,1,0.22,0A0.22,0.22,0,1,1,-0.22,0Z","symbolSize":1296,"symbolStrokeWidth":0,"symbolOpacity":1,"padding":10,"clipHeight":57,"labelOffset":3,"labelFontSize":19,"labelExpr":"''"}}}}
 ]
},
{
 "width":1051,"height":463,
 "data":{"name":"bot"},
 "encoding":{
  "x":{"field":"h","type":"quantitative","scale":{"domain":[0,240],"nice":false,"zero":false},
   "axis":{"values":[0,24,48,72,96,120,144,168,192,216,240],"grid":false,"tickSize":5,"labelPadding":11,"title":"Time, h","titlePadding":23,"labelFlush":false}},
  "y":{"field":"v","type":"quantitative","scale":{"domain":[0,1700],"nice":false},
   "axis":{"values":[0,100,200,300,400,500,600,700,800,900,1000,1100,1200,1300,1400,1500,1600,1700],"format":"d","grid":true,"tickSize":6,"labelPadding":5,"title":"Flow rate (l s⁻¹)","titlePadding":33}}
 },
 "layer":[
  {"mark":{"type":"line","strokeWidth":2,"strokeJoin":"round"},
   "encoding":{"color":{"field":"s","type":"nominal",
     "scale":{"domain":["D-7","D-8N","D-8S"],"range":["#FF0000","#000080","#000000"]},
     "legend":{"title":null,"orient":"none","legendX":589,"legendY":-101,"symbolType":"M-1.7,0L1.7,0","symbolSize":400,"symbolStrokeWidth":2,"padding":6.5,"symbolOffset":23.5,"rowPadding":8,"labelOffset":13,"labelFontSize":19,"strokeColor":"#000","fillColor":"#fff","labelLimit":600,
      "labelExpr":"datum.value === 'D-7' ? 'Sim. Hourly Flow Rates-  Distr. N. 10 D-7' : datum.value === 'D-8N' ? 'Sim. Hourly Flow Rates - Distr. N. 10  D-8N' : 'Sim. Hourly Flow Rates - Distr. N. 10 D-8S'"}}}},
  {"mark":{"type":"circle","opacity":1,"strokeWidth":1},
   "encoding":{
    "fill":{"field":"s","type":"nominal",
     "scale":{"domain":["D-7","D-8N","D-8S","_"],"range":["#000000","#33CCFF","#808080","#ffffff"]},
     "legend":{"title":null,"values":["D-7","D-8N","D-8S"],"orient":"none","legendX":589,"legendY":-101,"symbolType":"M-0.33,0A0.33,0.33,0,1,1,0.33,0A0.33,0.33,0,1,1,-0.33,0Z","symbolSize":400,"symbolStrokeColor":"#000","symbolStrokeWidth":1,"symbolOpacity":1,"padding":6.5,"symbolOffset":23.5,"rowPadding":8,"labelOffset":13,"labelFontSize":19,"labelExpr":"''"}},
    "size":{"field":"s","type":"nominal","scale":{"domain":["D-7","D-8N","D-8S","~"],"range":[22,30,90,10]},"legend":null},
    "stroke":{"field":"s","type":"nominal","scale":{"domain":["D-7","D-8N","D-8S","~"],"range":["#000000","#000080","#000000","#000000"]},"legend":null}
   }}
 ]
}
]
}
